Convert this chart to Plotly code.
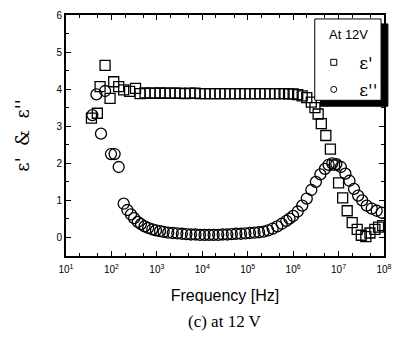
import plotly.graph_objects as go

# log10(frequency / Hz) and permittivity values
sq_logf = [1.56, 1.69, 1.75, 1.86, 1.97, 2.05, 2.16, 2.27, 2.40, 2.53, 2.63,
           2.74, 2.85, 2.96, 3.07, 3.18, 3.29, 3.40, 3.51, 3.62, 3.73, 3.84, 3.95,
           4.06, 4.17, 4.28, 4.39, 4.50, 4.61, 4.72, 4.83, 4.94, 5.05, 5.16, 5.27,
           5.38, 5.49, 5.60, 5.70, 5.80, 5.90, 6.00, 6.10, 6.20, 6.30, 6.40, 6.48,
           6.55, 6.62, 6.72, 6.82, 6.91, 7.00, 7.09, 7.19, 7.30, 7.41, 7.50, 7.60,
           7.69, 7.80, 7.88, 7.97]
eps_real = [3.22, 3.35, 4.07, 4.64, 3.75, 4.20, 4.07, 3.98, 3.94, 4.02, 3.88,
            3.90, 3.89, 3.89, 3.90, 3.89, 3.89, 3.89, 3.89, 3.88, 3.89, 3.89, 3.88,
            3.88, 3.88, 3.88, 3.88, 3.88, 3.88, 3.88, 3.88, 3.88, 3.88, 3.88, 3.88,
            3.88, 3.88, 3.88, 3.88, 3.88, 3.87, 3.87, 3.85, 3.82, 3.77, 3.65, 3.50,
            3.33, 3.07, 2.75, 2.38, 1.95, 1.47, 1.07, 0.72, 0.40, 0.22, 0.06, 0.02,
            0.12, 0.22, 0.28, 0.32]

ci_logf = [1.58, 1.67, 1.77, 1.86, 1.99, 2.07, 2.16, 2.27, 2.35, 2.43, 2.50,
           2.58, 2.65, 2.73, 2.81, 2.90, 2.98, 3.07, 3.15, 3.25, 3.35, 3.45, 3.55,
           3.65, 3.75, 3.85, 3.95, 4.05, 4.15, 4.25, 4.35, 4.45, 4.55, 4.65, 4.75,
           4.85, 4.95, 5.05, 5.15, 5.25, 5.35, 5.45, 5.55, 5.65, 5.75, 5.85, 5.92,
           6.00, 6.10, 6.20, 6.30, 6.40, 6.50, 6.60, 6.70, 6.78, 6.86, 6.95, 7.05,
           7.15, 7.24, 7.34, 7.43, 7.52, 7.62, 7.73, 7.84, 7.95]
eps_imag = [3.30, 3.86, 2.80, 3.95, 2.25, 2.25, 1.90, 0.91, 0.74, 0.62, 0.52,
            0.42, 0.36, 0.30, 0.26, 0.22, 0.19, 0.17, 0.15, 0.13, 0.12, 0.11, 0.10,
            0.09, 0.08, 0.08, 0.07, 0.07, 0.07, 0.07, 0.07, 0.08, 0.08, 0.09, 0.10,
            0.10, 0.11, 0.12, 0.13, 0.14, 0.16, 0.19, 0.24, 0.30, 0.37, 0.45, 0.51,
            0.58, 0.70, 0.86, 1.05, 1.28, 1.50, 1.70, 1.85, 1.96, 2.00, 1.98, 1.90,
            1.72, 1.53, 1.31, 1.13, 1.00, 0.86, 0.78, 0.72, 0.67]

sq_freq = [10 ** v for v in sq_logf]
ci_freq = [10 ** v for v in ci_logf]

x_exponents = [1, 2, 3, 4, 5, 6, 7, 8]
x_tickvals = [10 ** k for k in x_exponents]
x_ticktext = [f"10<sup>{k}</sup>" for k in x_exponents]
y_tickvals = [0, 1, 2, 3, 4, 5, 6]

fig = go.Figure()
fig.add_trace(go.Scatter(
    x=sq_freq, y=eps_real, mode="markers", showlegend=False,
    marker=dict(symbol="square-open", size=10, color="black", line=dict(width=1.3, color="black"))))
fig.add_trace(go.Scatter(
    x=ci_freq, y=eps_imag, mode="markers", showlegend=False,
    marker=dict(symbol="circle-open", size=11, color="black", line=dict(width=1.3, color="black"))))
# legend-only entries (small markers like the reference legend)
fig.add_trace(go.Scatter(
    x=[None], y=[None], mode="markers", name=" ε'", legendgroup="a",
    marker=dict(symbol="square-open", size=6, color="black", line=dict(width=1, color="black"))))
fig.add_trace(go.Scatter(
    x=[None], y=[None], mode="markers", name=" ε''", legendgroup="b",
    marker=dict(symbol="circle-open", size=6, color="black", line=dict(width=1, color="black"))))

axis_common = dict(
    showline=True, linecolor="black", linewidth=2, mirror="ticks",
    ticks="inside", ticklen=5, tickwidth=1.2, tickcolor="black",
    showgrid=False, zeroline=False,
    tickfont=dict(family="Liberation Sans, Arial", size=10, color="black"),
)

fig.update_xaxes(
    type="log", range=[1, 8], tickvals=x_tickvals, ticktext=x_ticktext,
    ticklabelstandoff=3,
    minor=dict(ticks="inside", ticklen=3, tickcolor="black", tickwidth=1, showgrid=False),
    title=dict(text="Frequency [Hz]", font=dict(family="Liberation Sans, Arial", size=16, color="black"), standoff=16),
    **axis_common)
fig.update_yaxes(
    range=[-0.5, 6], tickvals=y_tickvals,
    minor=dict(ticks="inside", ticklen=3, dtick=0.5, tickcolor="black", tickwidth=1, showgrid=False),
    title=dict(text="ε'  &  ε''", font=dict(family="DejaVu Serif, serif", size=18, color="black"), standoff=22),
    **axis_common)

# legend box: white box with border + shadow (pixel-tuned paper coords)
px_x = lambda p: (p - 66) / 326
px_y = lambda p: (256 - p) / 243
fig.add_shape(type="rect", xref="paper", yref="paper",
              x0=px_x(327), x1=px_x(396), y0=px_y(105), y1=px_y(22),
              fillcolor="black", line=dict(width=1, color="black"), layer="above")
fig.add_shape(type="rect", xref="paper", yref="paper",
              x0=px_x(321), x1=px_x(389), y0=px_y(99), y1=px_y(17),
              fillcolor="white", line=dict(width=1, color="black"), layer="above")

fig.update_layout(
    width=401, height=337,
    margin=dict(l=66, r=9, t=13, b=81),
    paper_bgcolor="white", plot_bgcolor="white",
    legend=dict(
        x=px_x(320), y=px_y(43), xanchor="left", yanchor="top",
        bgcolor="rgba(0,0,0,0)", borderwidth=0,
        font=dict(family="DejaVu Serif, serif", size=17, color="black"),
        itemwidth=30, tracegroupgap=2,
    ),
    annotations=[
        dict(text="At 12V", xref="paper", yref="paper", x=px_x(356), y=px_y(33),
             xanchor="center", yanchor="middle", showarrow=False,
             font=dict(family="Liberation Sans, Arial", size=13, color="black")),
        dict(text="(c) at 12 V", xref="paper", yref="paper", x=0.5, y=px_y(322),
             xanchor="center", yanchor="middle", showarrow=False,
             font=dict(family="Liberation Serif, Times New Roman, serif", size=17, color="black")),
    ],
)

fig.write_html("out.html")
